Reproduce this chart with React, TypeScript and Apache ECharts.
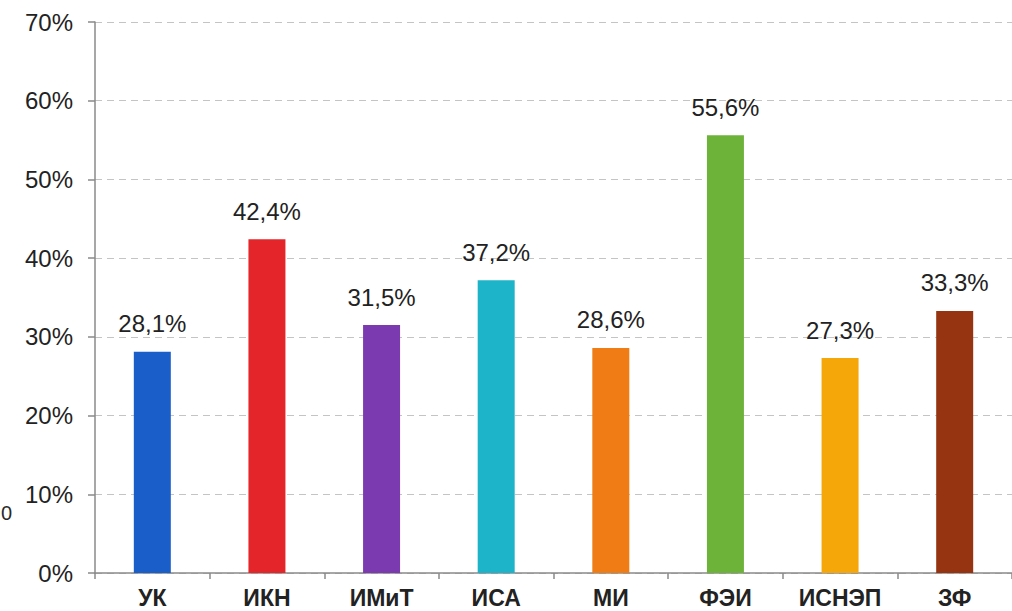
import React, { useEffect, useRef } from "react";
import * as echarts from "echarts";

const categories = ["УК", "ИКН", "ИМиТ", "ИСА", "МИ", "ФЭИ", "ИСНЭП", "ЗФ"];
const values = [28.1, 42.4, 31.5, 37.2, 28.6, 55.6, 27.3, 33.3];
const barColors = ["#1a5fc9", "#e4262a", "#7b3ab0", "#1db4c9", "#ef7c15", "#6db33a", "#f5a70a", "#963311"];
const yTicks = [0, 10, 20, 30, 40, 50, 60, 70];

export default function App() {
  const ref = useRef<HTMLDivElement>(null);
  useEffect(() => {
    if (!ref.current) return;
    const chart = echarts.init(ref.current, null, { renderer: "svg" });
    chart.setOption({
      animation: false,
      backgroundColor: "#ffffff",
      grid: { left: 95, top: 22, bottom: 38, right: -14, containLabel: false },
      title: {
        text: "0",
        left: 1,
        top: 503,
        padding: 0,
        textStyle: {
          fontSize: 20,
          fontWeight: "normal",
          color: "#2a2a2a",
          fontFamily: "Liberation Sans, Arial, sans-serif",
        },
      },
      xAxis: {
        type: "category",
        data: categories,
        axisLine: { lineStyle: { color: "#8a8a8a", width: 1.5 } },
        axisTick: { show: true, length: 6, lineStyle: { color: "#8a8a8a", width: 1.5 } },
        axisLabel: {
          color: "#222",
          fontSize: 23,
          fontWeight: "bold",
          fontFamily: "Liberation Sans, Arial, sans-serif",
          margin: 13,
          interval: 0,
        },
      },
      yAxis: {
        type: "value",
        min: yTicks[0],
        max: yTicks[yTicks.length - 1],
        interval: 10,
        axisLine: { show: true, lineStyle: { color: "#8a8a8a", width: 1.5 } },
        axisTick: { show: true, length: 7, lineStyle: { color: "#8a8a8a", width: 1.5 } },
        splitLine: { lineStyle: { color: "#c4c4c4", type: [7, 5], width: 1.2 } },
        axisLabel: {
          formatter: (v: number) => v + "%",
          color: "#222",
          fontSize: 24,
          fontFamily: "Liberation Sans, Arial, sans-serif",
          margin: 22,
        },
      },
      series: [
        {
          type: "bar",
          barWidth: 37,
          data: values.map((v, i) => ({ value: v, itemStyle: { color: barColors[i] } })),
          label: {
            show: true,
            position: "top",
            distance: 16,
            color: "#222",
            fontSize: 24,
            fontFamily: "Liberation Sans, Arial, sans-serif",
            formatter: (p: any) => String(p.value).replace(".", ",") + "%",
          },
        },
      ],
    });
    return () => chart.dispose();
  }, []);
  return <div ref={ref} style={{ width: 1012, height: 611, position: "absolute", left: 0, top: 0 }} />;
}
